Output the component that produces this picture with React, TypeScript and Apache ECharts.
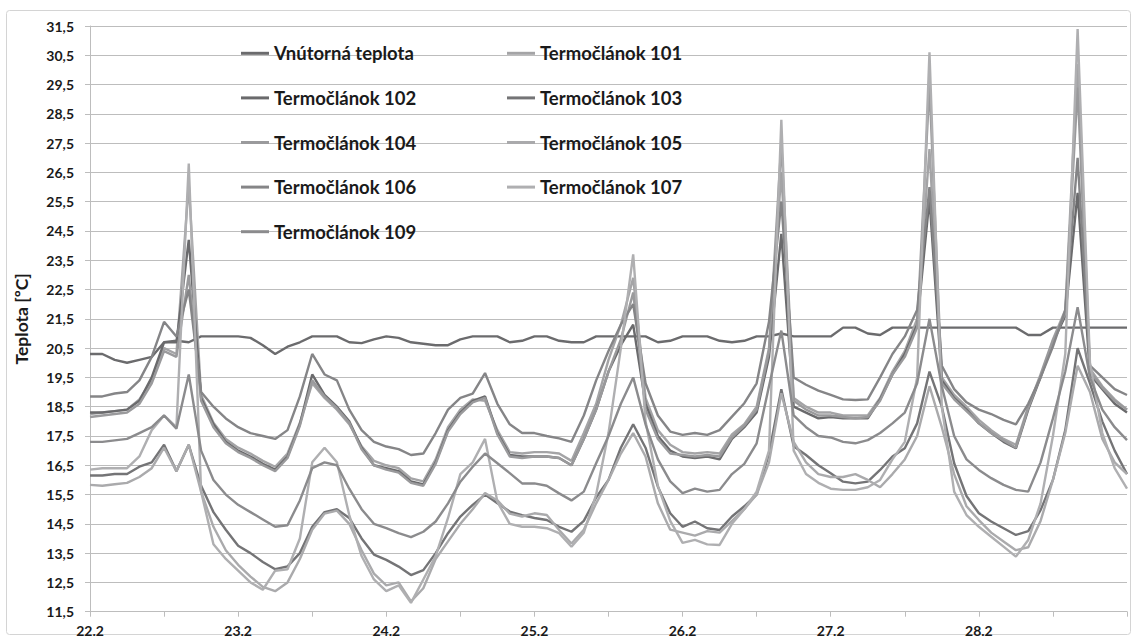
import React, { useEffect, useRef } from 'react';
import * as echarts from 'echarts';

// Hours since 22.2 00:00 (2-hour readings)
const HOURS = [
  0, 2, 4, 6, 8, 10, 12, 14, 16, 18, 20, 22,
  24, 26, 28, 30, 32, 34, 36, 38, 40, 42, 44, 46,
  48, 50, 52, 54, 56, 58, 60, 62, 64, 66, 68, 70,
  72, 74, 76, 78, 80, 82, 84, 86, 88, 90, 92, 94,
  96, 98, 100, 102, 104, 106, 108, 110, 112, 114, 116, 118,
  120, 122, 124, 126, 128, 130, 132, 134, 136, 138, 140, 142,
  144, 146, 148, 150, 152, 154, 156, 158, 160, 162, 164, 166, 168,
];
const DAY_LABELS = ['22.2', '23.2', '24.2', '25.2', '26.2', '27.2', '28.2'];
const Y_TICKS_BASE = 11.5; // lowest tick label on the y axis (11,5 .. 31,5)
const Y_TICK_COUNT = 20;

const vnutorna = [
  20.3, 20.3, 20.1, 20.0, 20.1, 20.2, 20.7, 20.75, 20.7, 20.9, 20.9, 20.9,
  20.9, 20.85, 20.6, 20.3, 20.55, 20.7, 20.9, 20.9, 20.9, 20.7, 20.67, 20.8,
  20.9, 20.85, 20.7, 20.65, 20.6, 20.6, 20.8, 20.9, 20.9, 20.9, 20.7, 20.75,
  20.9, 20.9, 20.75, 20.7, 20.7, 20.9, 20.9, 20.9, 20.9, 20.9, 20.7, 20.75,
  20.9, 20.9, 20.9, 20.75, 20.7, 20.75, 20.9, 20.9, 21.0, 20.9, 20.9, 20.9,
  20.9, 21.2, 21.2, 21.0, 20.95, 21.2, 21.2, 21.2, 21.2, 21.2, 21.2, 21.2,
  21.2, 21.2, 21.2, 21.2, 20.95, 20.95, 21.2, 21.2, 21.2, 21.2, 21.2, 21.2, 21.2,
];
const t101 = [
  18.25, 18.3, 18.35, 18.4, 18.75, 19.4, 20.5, 20.3, 26.1, 18.9, 17.95, 17.4,
  17.1, 16.9, 16.65, 16.45, 16.9, 17.95, 19.3, 18.8, 18.4, 17.9, 17.15, 16.65,
  16.5, 16.4, 16.05, 15.95, 16.7, 17.8, 18.4, 18.75, 18.7, 17.7, 16.95, 16.9,
  16.95, 16.95, 16.9, 16.65, 17.6, 18.6, 20.1, 21.3, 22.9, 18.8, 17.7, 17.2,
  16.95, 16.9, 16.95, 16.9, 17.55, 17.9, 18.5, 20.5, 26.5, 18.8, 18.5, 18.3,
  18.3, 18.2, 18.2, 18.2, 18.8, 19.7, 20.4, 21.5, 27.3, 19.5, 18.9, 18.5,
  18.05, 17.7, 17.4, 17.2, 18.5, 19.6, 20.8, 21.8, 30.2, 19.8, 19.2, 18.75, 18.4,
];
const t102 = [
  18.3, 18.3, 18.35, 18.4, 18.7, 19.5, 20.7, 20.7, 24.2, 18.8, 17.9, 17.3,
  17.0, 16.8, 16.55, 16.35, 16.8, 17.9, 19.6, 18.9, 18.5, 18.0, 17.1, 16.5,
  16.4, 16.3, 15.95, 15.85, 16.6, 17.7, 18.3, 18.7, 18.85, 17.6, 16.85, 16.8,
  16.8, 16.8, 16.75, 16.5, 17.4, 18.4, 19.7, 20.6, 21.3, 18.6, 17.5, 17.0,
  16.8, 16.75, 16.8, 16.7, 17.4, 17.8, 18.3, 20.2, 24.4, 18.5, 18.3, 18.1,
  18.15, 18.1, 18.1, 18.1, 18.75, 19.6, 20.3, 21.3, 25.6, 19.4, 18.8, 18.4,
  17.93, 17.6, 17.3, 17.08, 18.4, 19.5, 20.7, 21.6, 25.8, 19.6, 19.1, 18.6, 18.3,
];
const t103 = [
  16.15, 16.15, 16.2, 16.2, 16.45, 16.6, 17.2, 16.3, 17.2, 15.8, 14.9, 14.3,
  13.75, 13.5, 13.2, 12.95, 13.05, 13.5, 14.4, 14.9, 15.0, 14.7, 14.0, 13.45,
  13.27, 13.04, 12.75, 12.92, 13.5, 14.18, 14.75, 15.15, 15.5, 15.2, 14.92, 14.8,
  14.7, 14.63, 14.4, 14.23, 14.6, 15.4, 16.0, 17.1, 17.9, 17.1, 15.77, 14.86,
  14.4, 14.58, 14.35, 14.29, 14.75, 15.1, 15.5, 16.9, 19.1, 17.15, 16.85, 16.5,
  16.23, 15.94, 15.88, 15.94, 16.34, 16.8, 17.08, 17.93, 19.7, 18.5, 16.57, 15.45,
  14.86, 14.58, 14.35, 14.12, 14.25, 14.97, 16.0, 17.7, 20.5, 19.3, 18.0, 17.0, 16.2,
];
const t104 = [
  18.15, 18.2, 18.25, 18.3, 18.6, 19.3, 20.4, 20.2, 23.0, 18.7, 17.8, 17.25,
  16.95, 16.75, 16.5, 16.3, 16.75, 17.85, 19.4, 18.85, 18.45, 17.95, 17.05, 16.5,
  16.35, 16.25, 15.9, 15.8, 16.55, 17.65, 18.25, 18.65, 18.8, 17.55, 16.8, 16.75,
  16.8, 16.8, 16.75, 16.5, 17.4, 18.4, 19.7, 20.8, 22.4, 18.4, 17.4, 16.9,
  16.85, 16.8, 16.85, 16.8, 17.45, 17.85, 18.4, 20.4, 27.5, 18.7, 18.4, 18.2,
  18.2, 18.15, 18.1, 18.15, 18.7, 19.6, 20.2, 21.2, 29.5, 19.3, 18.75, 18.35,
  17.95, 17.6, 17.35, 17.1, 18.45, 19.55, 20.75, 21.7, 29.4, 19.7, 19.15, 18.7, 18.4,
];
const t105 = [
  15.83, 15.8, 15.85, 15.9, 16.1, 16.4, 17.1, 16.3, 17.2, 15.6, 14.4, 13.6,
  13.1, 12.7, 12.35, 12.2, 12.5, 13.3, 14.3, 14.85, 14.95, 14.5, 13.6, 12.8,
  12.4, 12.5, 11.85, 12.3, 13.3, 13.9, 14.5, 15.0, 15.55, 15.3, 14.85, 14.75,
  14.86, 14.8, 14.29, 13.83, 14.3, 15.2, 16.0, 16.9, 17.6, 16.8, 15.2, 14.3,
  14.2, 14.1, 14.25, 14.2, 14.6, 15.0, 15.5, 16.6, 18.96, 17.3, 16.6, 16.2,
  16.1, 16.1, 16.2, 16.0, 15.75, 16.2, 16.7, 17.5, 19.2, 17.8, 16.2, 15.1,
  14.63, 14.2, 13.9, 13.6, 13.7, 14.6, 16.0, 17.6, 19.9, 19.0, 17.4, 16.6, 16.2,
];
const t106 = [
  18.85, 18.85, 18.95, 19.0, 19.4, 20.2, 21.4, 20.9, 22.5, 19.0, 18.5, 18.1,
  17.8, 17.6, 17.5, 17.4, 17.7, 18.85, 20.3, 19.6, 19.4, 18.4, 17.7, 17.3,
  17.14, 17.05, 16.85, 16.9, 17.6, 18.4, 18.8, 18.95, 19.65, 18.6, 17.9, 17.6,
  17.6, 17.5, 17.42, 17.3, 18.2, 19.4, 20.4, 21.3, 22.0, 19.3, 18.2, 17.65,
  17.54, 17.6, 17.54, 17.7, 18.16, 18.62, 19.3, 21.4, 25.5, 19.5, 19.25, 19.05,
  18.9, 18.75, 18.73, 18.75, 19.5, 20.3, 20.9, 21.8, 26.0, 19.9, 19.1, 18.65,
  18.4, 18.25, 18.05, 17.9, 18.6, 19.5, 20.55, 21.8, 27.0, 19.9, 19.5, 19.1, 18.9,
];
const t107 = [
  16.35, 16.4, 16.4, 16.4, 16.8, 17.7, 18.2, 17.8, 26.8, 15.6, 13.8, 13.3,
  12.9, 12.5, 12.25, 12.9, 12.95, 14.0, 16.6, 17.1, 16.6, 14.8, 13.4, 12.6,
  12.2, 12.4, 11.8, 12.6, 13.4, 14.7, 16.2, 16.6, 17.4, 15.25, 14.5, 14.4,
  14.4, 14.35, 14.18, 13.72, 14.2, 15.5, 17.6, 20.5, 23.7, 18.0, 15.8, 14.6,
  13.85, 13.95, 13.8, 13.78, 14.5, 15.0, 15.6, 17.0, 28.3, 17.0, 16.2, 15.9,
  15.7, 15.66, 15.66, 15.75, 16.0, 16.7, 17.3, 19.5, 30.6, 18.5, 15.6, 14.8,
  14.4, 14.06, 13.72, 13.38, 13.95, 15.2, 17.5, 20.3, 31.4, 20.0, 17.6, 16.4, 15.7,
];
const t109 = [
  17.3, 17.3, 17.35, 17.4, 17.6, 17.8, 18.2, 17.75, 19.6, 17.0, 16.0, 15.5,
  15.15, 14.9, 14.65, 14.4, 14.45, 15.3, 16.4, 16.6, 16.5, 15.7, 15.0, 14.5,
  14.35, 14.18, 14.05, 14.23, 14.58, 15.2, 15.94, 16.45, 16.9, 16.57, 16.23, 15.88,
  15.88, 15.8, 15.54, 15.3, 15.6, 16.57, 17.5, 18.6, 19.5, 17.9, 16.7, 15.95,
  15.55, 15.7, 15.6, 15.66, 16.2, 16.55, 17.25, 19.2, 21.1, 18.2, 17.8, 17.5,
  17.45, 17.3, 17.25, 17.36, 17.6, 17.93, 18.3, 19.3, 21.5, 19.2, 17.5, 16.7,
  16.34, 16.06, 15.83, 15.66, 15.6, 16.6, 18.1, 19.7, 21.9, 19.5, 18.4, 17.8, 17.36,
];

const SERIES_NAMES = [
  'Vnútorná teplota', 'Termočlánok 101', 'Termočlánok 102', 'Termočlánok 103',
  'Termočlánok 104', 'Termočlánok 105', 'Termočlánok 106', 'Termočlánok 107', 'Termočlánok 109',
];
const SERIES_VALUES = [vnutorna, t101, t102, t103, t104, t105, t106, t107, t109];
const SERIES_COLORS = [
  '#6b6b6d', '#a4a4a6', '#6a6a6c', '#747476', '#9a9a9c', '#aaaaac', '#858587', '#afafb1', '#8b8b8d',
];
const LEGEND_COL1 = ['Vnútorná teplota', 'Termočlánok 102', 'Termočlánok 104', 'Termočlánok 106', 'Termočlánok 109'];
const LEGEND_COL2 = ['Termočlánok 101', 'Termočlánok 103', 'Termočlánok 105', 'Termočlánok 107'];

const FONT = 'Lato, "Open Sans", sans-serif';

export default function App() {
  const ref = useRef<HTMLDivElement>(null);
  useEffect(() => {
    const chart = echarts.init(ref.current!, null, { renderer: 'svg' });
    const legendBase = {
      orient: 'vertical' as const,
      top: 38.3,
      itemGap: 24.6,
      icon: 'rect',
      itemWidth: 28,
      itemHeight: 3,
      selectedMode: false,
      textStyle: { fontFamily: FONT, fontWeight: 'bold' as const, fontSize: 18.5, color: '#1a1a1a', lineHeight: 20 },
    };
    chart.setOption({
      animation: false,
      backgroundColor: '#ffffff',
      graphic: [
        {
          type: 'rect',
          shape: { x: 6.5, y: 10.5, width: 1124, height: 624, r: 3 },
          style: { fill: 'none', stroke: '#d4d4d4', lineWidth: 1 },
          silent: true,
        },
      ],
      grid: { left: 90, right: 10, top: 26, bottom: 27.3, containLabel: false },
      legend: [
        { ...legendBase, left: 236, data: LEGEND_COL1 },
        { ...legendBase, left: 502, data: LEGEND_COL2 },
      ],
      xAxis: {
        type: 'value',
        min: HOURS[0],
        max: HOURS[HOURS.length - 1],
        interval: 12,
        axisLine: { show: true, lineStyle: { color: '#bdbdbd', width: 1 } },
        axisTick: { show: true, length: 5, lineStyle: { color: '#bdbdbd' } },
        splitLine: { show: false },
        axisLabel: {
          margin: 12,
          fontFamily: FONT,
          fontWeight: 'bold',
          fontSize: 14,
          color: '#1a1a1a',
          formatter: (v: number) => (v % 24 === 0 ? DAY_LABELS[v / 24] ?? '' : ''),
        },
      },
      yAxis: {
        type: 'value',
        min: 0,
        max: Y_TICK_COUNT,
        interval: 1,
        name: 'Teplota [ºC]',
        nameLocation: 'middle',
        nameGap: 60,
        nameTextStyle: { fontFamily: FONT, fontWeight: 'bold', fontSize: 17.5, color: '#1a1a1a' },
        axisLine: { show: true, lineStyle: { color: '#bdbdbd', width: 1 } },
        axisTick: { show: true, length: 5, lineStyle: { color: '#bdbdbd' } },
        splitLine: { show: true, lineStyle: { color: '#bdbdbd', width: 1 } },
        axisLabel: {
          margin: 16,
          fontFamily: FONT,
          fontWeight: 'bold',
          fontSize: 14,
          color: '#1a1a1a',
          formatter: (v: number) => (v + Y_TICKS_BASE).toFixed(1).replace('.', ','),
        },
      },
      series: SERIES_NAMES.map((name, i) => ({
        name,
        type: 'line',
        symbol: 'none',
        color: SERIES_COLORS[i],
        lineStyle: { width: 2.4, color: SERIES_COLORS[i] },
        data: HOURS.map((h, j) => [h, SERIES_VALUES[i][j] - Y_TICKS_BASE]),
      })),
    });
    return () => chart.dispose();
  }, []);
  return (
    <div
      ref={ref}
      style={{ position: 'fixed', left: 0, top: 0, width: 1137, height: 639, background: '#fff' }}
    />
  );
}
